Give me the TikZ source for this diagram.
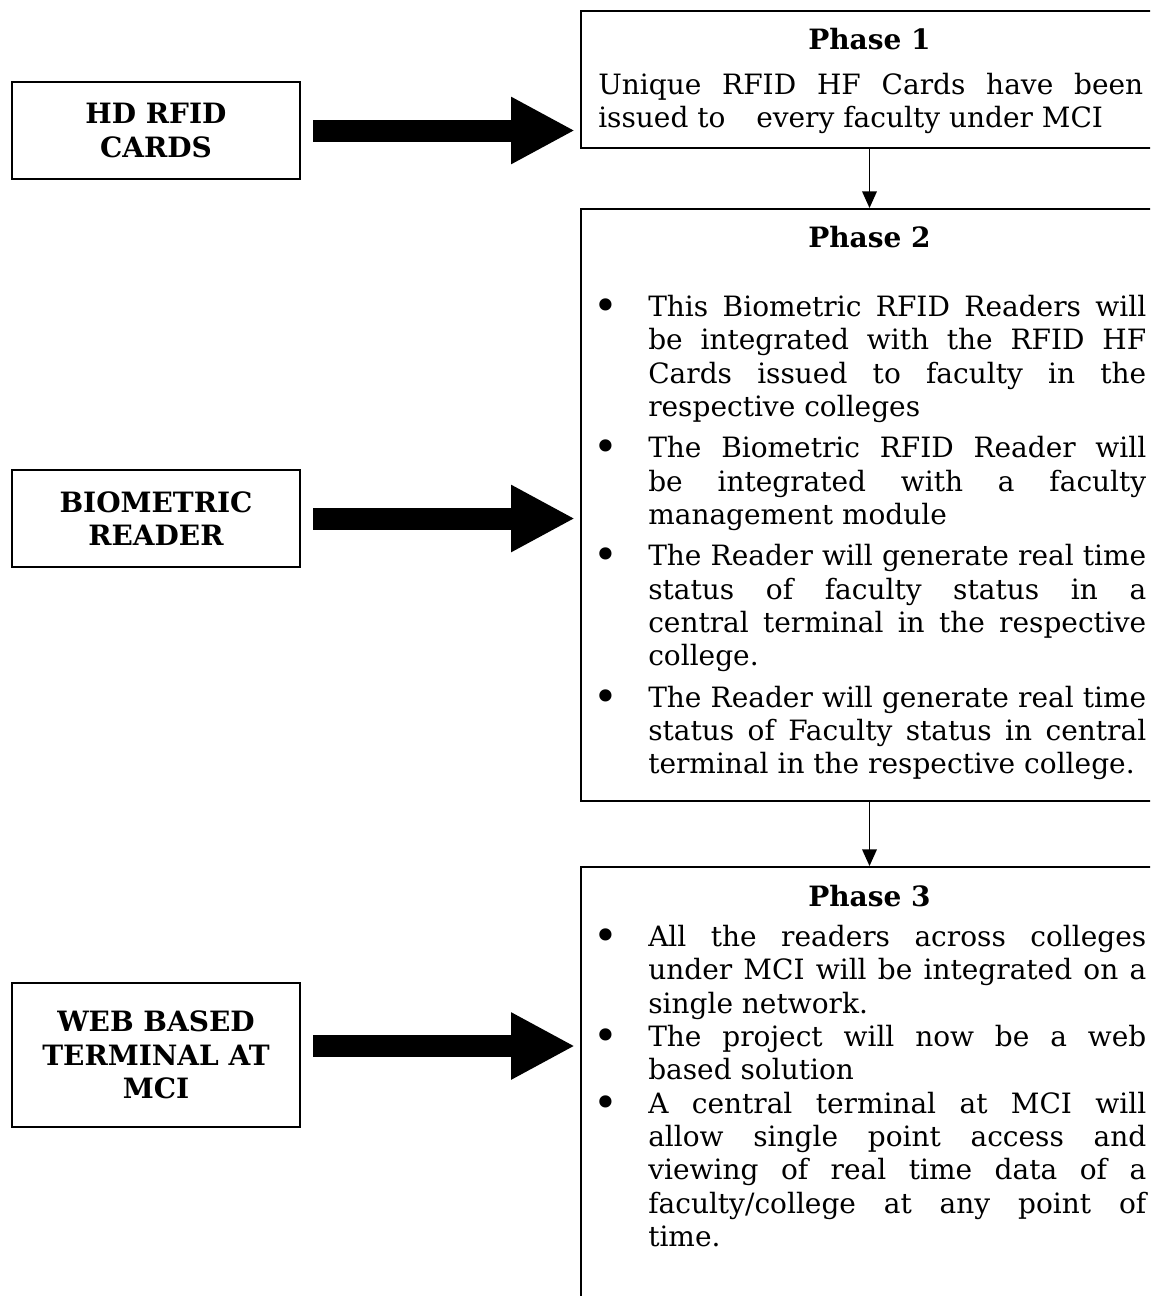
\documentclass[tikz,border=0pt]{standalone}
\usepackage{fontspec}
\setmainfont{DejaVu Serif}
\usetikzlibrary{calc,positioning,arrows.meta}

\newcommand{\phasebullet}{\makebox[9pt][c]{\raisebox{-3pt}{\scalebox{1.5}{\textbullet}}}}
\newenvironment{phaselist}[1]{\begin{list}{\phasebullet}{\setlength{\leftmargin}{36pt}\setlength{\labelsep}{27pt}\setlength{\labelwidth}{9pt}\setlength{\topsep}{0pt}\setlength{\partopsep}{0pt}\setlength{\parsep}{0pt}\setlength{\itemsep}{#1}}}{\end{list}}

\begin{document}
\begin{tikzpicture}[x=0.75pt,y=-0.75pt,
  every node/.style={align=center,inner sep=0pt,font=\fontsize{21pt}{25pt}\selectfont},
  srcbox/.style={draw,line width=1.5pt,minimum width=216pt,minimum height=72.75pt,anchor=north west,font=\fontsize{21pt}{25pt}\selectfont\bfseries},
  phasebox/.style={draw,line width=1.5pt,minimum width=432.75pt,anchor=north west},
  phasetitle/.style={anchor=base,font=\fontsize{21pt}{25pt}\selectfont\bfseries},
  phasetext/.style={anchor=base west,align=justify,text width=409.5pt},
  bigarrow/.style={line width=16.5pt,shorten <=9pt,shorten >=3.75pt,-{Triangle[length=48pt,width=47pt]}},
  thinarrow/.style={line width=1.1pt,-{Triangle[length=12.5pt,width=11pt]}}]
\useasboundingbox (0,0) rectangle (1150,1296);
\clip (0,0) rectangle (1150,1296);

% left column
\node [srcbox] (HdCards) at (11,81) {HD RFID\\CARDS};
\node [srcbox] (BioReader) at (11,469) {BIOMETRIC\\READER};
\node [srcbox,minimum height=108pt] (WebTerminal) at (11,982) {WEB BASED\\TERMINAL AT\\MCI};

% phase boxes
\node [phasebox,minimum height=102.75pt] (Phase1) at (580,10) {};
\node [phasebox,minimum height=444pt] (Phase2) at (580,208) {};
\node [phasebox,minimum height=348pt] (Phase3) at (580,866) {};

\node [phasetitle] (Phase1Title) at ($(Phase1.north)+(0,39)$) {Phase 1};
\node [phasetitle] (Phase2Title) at ($(Phase2.north)+(0,39)$) {Phase 2};
\node [phasetitle] (Phase3Title) at ($(Phase3.north)+(0,40)$) {Phase 3};

\node [phasetext,text width=408.75pt] (Phase1Text) at ($(Phase1.north west)+(18,84)$) {Unique RFID HF Cards have been\linebreak issued to\hspace{1.1em}every faculty under MCI};

\node [phasetext] (Phase2Text) at ($(Phase2.north west)+(20,75)$) {%
\begin{phaselist}{6pt}
\item This Biometric RFID Readers will\linebreak be integrated with the RFID HF\linebreak Cards issued to faculty in the\linebreak respective colleges
\item The Biometric RFID Reader will\linebreak be integrated with a faculty\linebreak management module
\item The Reader will generate real time\linebreak status of faculty status in a\linebreak central terminal in the respective\linebreak college.
\item The Reader will generate real time\linebreak status of Faculty status in central\linebreak terminal in the respective college.
\end{phaselist}};

\node [phasetext] (Phase3Text) at ($(Phase3.north west)+(20,47)$) {%
\begin{phaselist}{0pt}
\item All the readers across colleges\linebreak under MCI will be integrated on a\linebreak single network.
\item The project will now be a web\linebreak based solution
\item A central terminal at MCI will\linebreak allow single point access and\linebreak viewing of real time data of a\linebreak faculty/college at any point of\linebreak time.
\end{phaselist}};

% connectors
\draw [bigarrow] (HdCards.east) -- (HdCards.east -| Phase1.west);
\draw [bigarrow] (BioReader.east) -- (BioReader.east -| Phase2.west);
\draw [bigarrow] ($(WebTerminal.east)+(0,-9)$) -- ($(WebTerminal.east -| Phase3.west)+(0,-9)$);
\draw [thinarrow] (Phase1.south) -- (Phase2.north);
\draw [thinarrow] (Phase2.south) -- (Phase3.north);
\end{tikzpicture}
\end{document}
